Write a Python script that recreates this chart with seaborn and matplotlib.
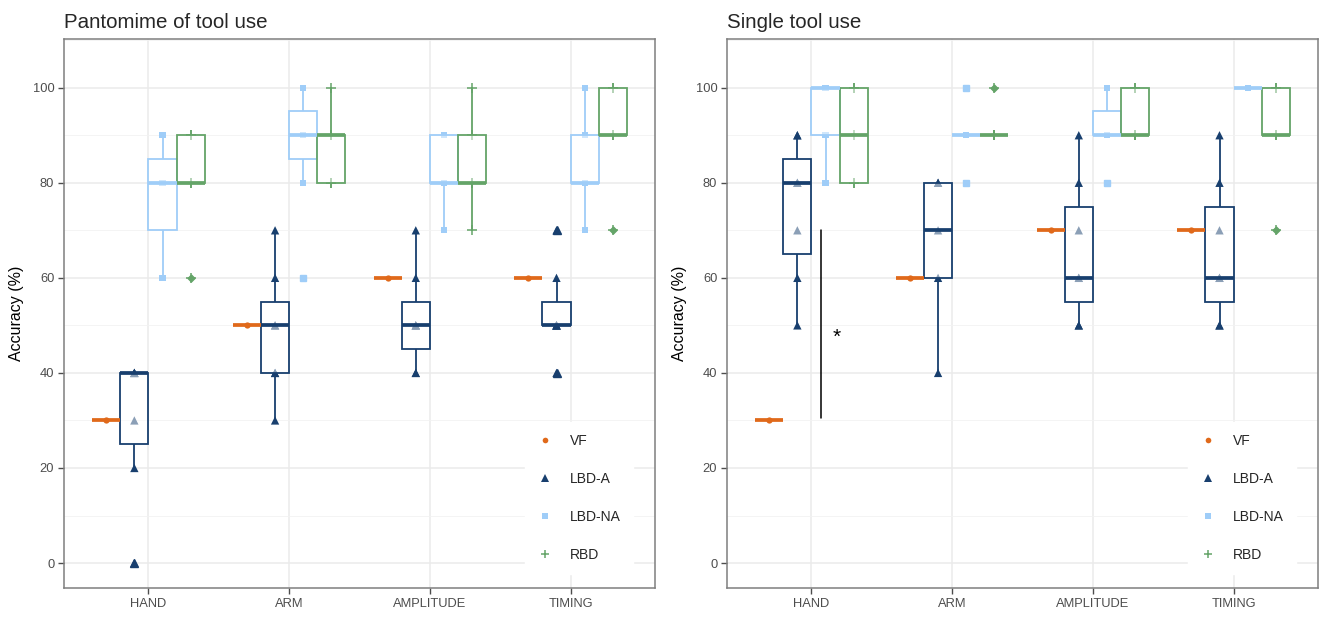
import numpy as np
import pandas as pd
import matplotlib
matplotlib.use("Agg")
import matplotlib.pyplot as plt
from matplotlib.lines import Line2D
import seaborn as sns

categories = ["HAND", "ARM", "AMPLITUDE", "TIMING"]
groups = ["VF", "LBD-A", "LBD-NA", "RBD"]

# accuracy (%) per patient, one list per task (HAND, ARM, AMPLITUDE, TIMING)
pant_vf = [[30], [50], [60], [60]]
pant_lbd_a = [[0, 20, 30, 40, 40, 40, 40],
              [30, 40, 40, 50, 50, 60, 70],
              [40, 40, 50, 50, 50, 60, 70],
              [40, 50, 50, 50, 50, 60, 70]]
pant_lbd_na = [[60, 80, 90],
               [60, 80, 90, 90, 90, 100, 100],
               [70, 80, 80, 90, 90],
               [70, 80, 80, 90, 100]]
pant_rbd = [[60, 80, 80, 90, 90],
            [80, 80, 90, 90, 100],
            [70, 80, 80, 90, 100],
            [70, 90, 90, 100, 100]]

single_vf = [[30], [60], [70], [70]]
single_lbd_a = [[50, 60, 70, 80, 80, 90, 90],
                [40, 60, 70, 80, 80],
                [50, 50, 60, 60, 70, 80, 90],
                [50, 50, 60, 60, 70, 80, 90]]
single_lbd_na = [[80, 90, 100, 100, 100],
                 [80, 90, 90, 90, 100],
                 [80, 90, 90, 90, 90, 100, 100],
                 [100, 100, 100, 100, 100]]
single_rbd = [[80, 80, 90, 100, 100],
              [90, 90, 90, 90, 100],
              [90, 90, 90, 100, 100],
              [70, 90, 90, 100, 100]]

# significance bar on single tool use, HAND (VF vs LBD-A)
sig_span = [30.5, 70]

palette = {"VF": "#E0691A", "LBD-A": "#183F6E", "LBD-NA": "#9FCDF8", "RBD": "#64A468"}
markers = {"VF": "o", "LBD-A": "^", "LBD-NA": "s", "RBD": "+"}
msizes = {"VF": 4.5, "LBD-A": 6, "LBD-NA": 4.5, "RBD": 7}


def to_long(series):
    rows = []
    for grp, per_task in zip(groups, series):
        for task, vals in zip(categories, per_task):
            for v in vals:
                rows.append({"task": task, "group": grp, "acc": v})
    return pd.DataFrame(rows)


df_pant = to_long([pant_vf, pant_lbd_a, pant_lbd_na, pant_rbd])
df_single = to_long([single_vf, single_lbd_a, single_lbd_na, single_rbd])

sns.set_theme(style="white")
plt.rcParams["font.family"] = ["Liberation Sans", "DejaVu Sans"]

W, H = 1323, 617
fig = plt.figure(figsize=(W / 100, H / 100), dpi=100)
ax1 = fig.add_axes([64 / W, (H - 588) / H, 591 / W, 549 / H])
ax2 = fig.add_axes([727 / W, (H - 588) / H, 591 / W, 549 / H])


def draw_panel(ax, df, title):
    # points first, the half transparent box fill fades those inside the box
    for g in groups:
        sub = df[df["group"] == g]
        sns.stripplot(data=sub, x="task", y="acc", hue="group", order=categories,
                      hue_order=groups, palette=palette, dodge=True, jitter=False,
                      marker=markers[g], size=msizes[g], edgecolor=palette[g],
                      linewidth=1.1 if g == "RBD" else 0, legend=False, ax=ax,
                      zorder=2.2)
    sns.boxplot(data=df, x="task", y="acc", hue="group", order=categories,
                hue_order=groups, palette=palette, width=0.8, gap=0, whis=1.5,
                linewidth=1.3, legend=False, ax=ax)
    for g, cont in zip(groups, ax.containers):
        col = palette[g]
        for b in cont.boxes:
            b.set_facecolor((1, 1, 1, 0.5))
            b.set_edgecolor(col)
            b.set_linewidth(1.3)
            b.set_zorder(3)
        for ln in cont.whiskers:
            ln.set_color(col)
            ln.set_linewidth(1.3)
            ln.set_zorder(1.8)
        for ln in cont.caps:
            ln.set_visible(False)
        for ln in cont.medians:
            ln.set_color(col)
            ln.set_linewidth(2.7)
            ln.set_zorder(4)
        for ln in cont.fliers:
            ln.set_marker("D" if g == "RBD" else markers[g])
            ln.set_markersize(3.5 if g == "RBD" else msizes[g])
            ln.set_markerfacecolor(col)
            ln.set_markeredgecolor(col)
            ln.set_zorder(4.5)

    ax.set_xlim(-0.6, 3.6)
    ax.set_ylim(-5.25, 110.25)
    ax.set_yticks([0, 20, 40, 60, 80, 100])
    ax.set_yticks([10, 30, 50, 70, 90, 110], minor=True)
    ax.grid(True, which="major", color="#EBEBEB", linewidth=1.1, zorder=0)
    ax.grid(True, which="minor", axis="y", color="#F2F2F2", linewidth=0.6, zorder=0)
    ax.set_axisbelow(True)
    for sp in ax.spines.values():
        sp.set_color("#7F7F7F")
        sp.set_linewidth(1.1)
    ax.tick_params(axis="both", which="major", length=4, width=1, color="#4D4D4D",
                   labelsize=9.3, labelcolor="#4D4D4D", pad=3, bottom=True, left=True)
    ax.tick_params(axis="both", which="minor", length=0)
    ax.set_xlabel("")
    ax.set_ylabel("Accuracy (%)", fontsize=11.5, color="black", labelpad=6)
    ax.set_title(title, loc="left", fontsize=14.8, pad=8)

    handles = [Line2D([], [], linestyle="", marker=markers[g], color=palette[g],
                      markersize=msizes[g] * 0.9, markeredgewidth=1.1 if g == "RBD" else 0)
               for g in groups]
    leg = ax.legend(handles, groups, loc="lower right", bbox_to_anchor=(0.975, 0.012),
                    frameon=True, fancybox=False, fontsize=10, labelspacing=1.72,
                    handletextpad=1.3, handlelength=1.0, borderpad=0.9)
    leg.get_frame().set_edgecolor("white")
    leg.get_frame().set_facecolor("white")
    leg.get_frame().set_alpha(1)
    leg.set_zorder(6)


draw_panel(ax1, df_pant, "Pantomime of tool use")
draw_panel(ax2, df_single, "Single tool use")

ax2.plot([0.07, 0.07], sig_span, color="black", linewidth=1.1, zorder=5)
ax2.text(0.18, 47.5, "*", fontsize=15, ha="center", va="center", color="black")

fig.savefig("out.png", dpi=100)
